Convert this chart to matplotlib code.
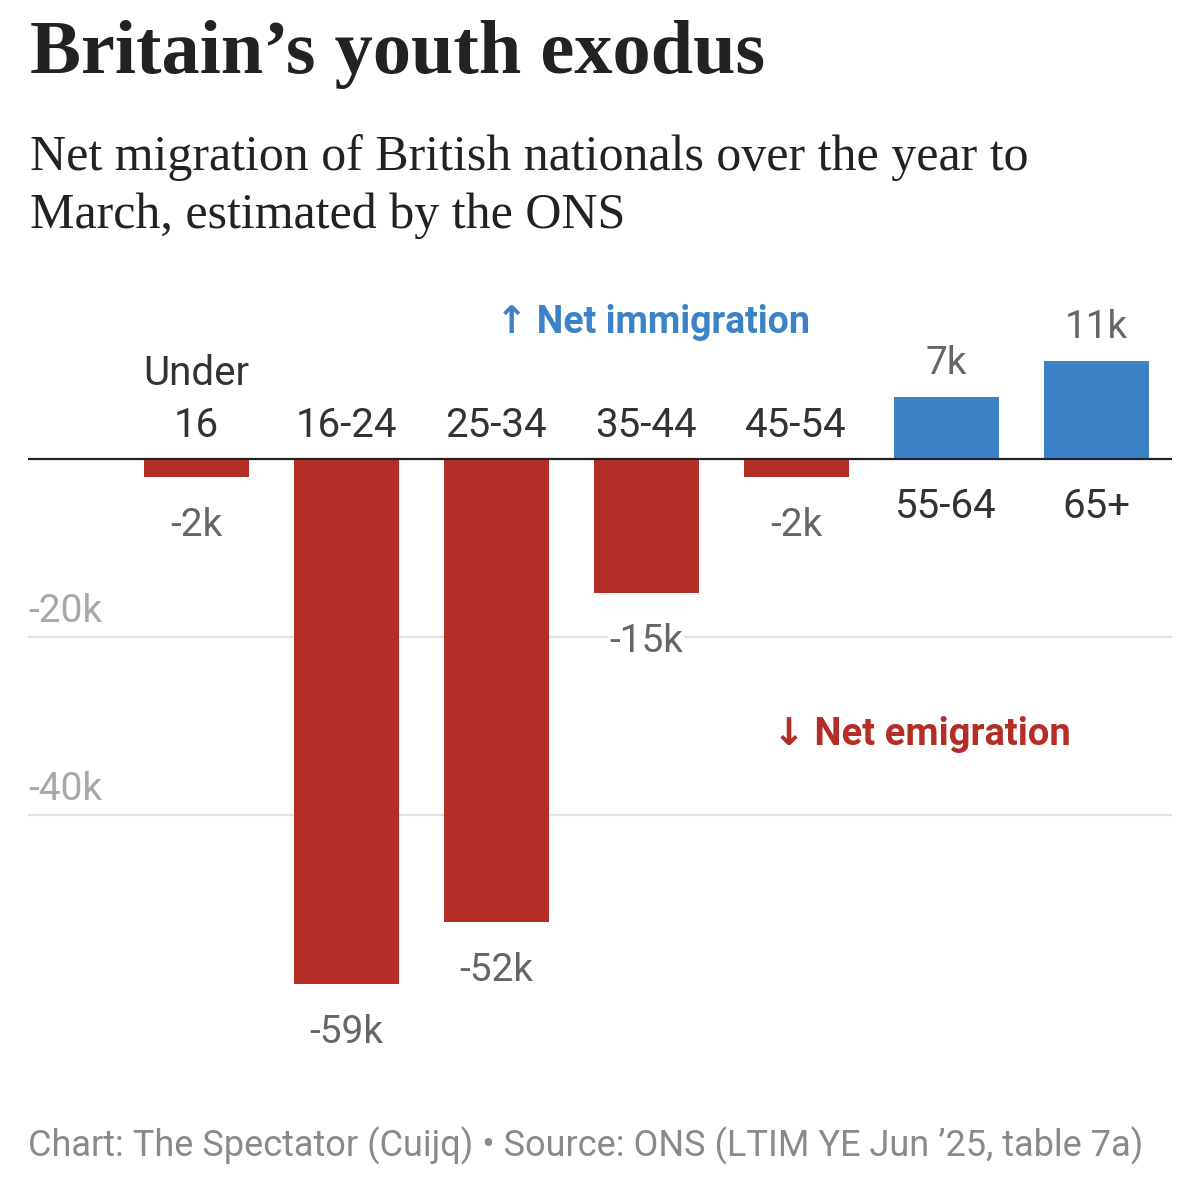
import matplotlib.pyplot as plt

categories = ["Under\n16", "16-24", "25-34", "35-44", "45-54", "55-64", "65+"]
net_migration = [-2, -59, -52, -15, -2, 7, 11]  # thousands
value_labels = ["-2k", "-59k", "-52k", "-15k", "-2k", "7k", "11k"]
grid_values = [-20, -40]
grid_labels = ["-20k", "-40k"]

red = "#b42d27"
blue = "#3b82c6"
W, H = 1200, 1187
PT = 0.72  # points per pixel at dpi 100

plt.rcParams["font.family"] = ["Roboto", "DejaVu Sans"]

fig = plt.figure(figsize=(W / 100, H / 100), dpi=100)

# axes box in pixels
left, right, top, bottom = 28, 1172, 280, 1080
zero_px, px_per_k = 459, 8.9
ax = fig.add_axes([left / W, 1 - bottom / H, (right - left) / W, (bottom - top) / H])
ax.set_ylim(-(bottom - zero_px) / px_per_k, (zero_px - top) / px_per_k)
ax.set_xlim(-(196 - left) / 150, (right - 196) / 150)
ax.axis("off")

x = list(range(len(categories)))
colors = [red if v < 0 else blue for v in net_migration]
ax.bar(x, net_migration, width=0.7, color=colors, zorder=2)
ax.axhline(0, color="#222222", lw=1.6, zorder=3)

for g, lab in zip(grid_values, grid_labels):
    ax.axhline(g, color="#e3e3e3", lw=1.6, zorder=0)
    ax.annotate(lab, (0, g), xycoords=("axes fraction", "data"),
                xytext=(0, 15 * PT), textcoords="offset points",
                ha="left", va="baseline", fontsize=28, color="#a8a8a8")

for xi, v, cat, lab in zip(x, net_migration, categories, value_labels):
    lines = cat.split("\n")
    if v < 0:
        for j, line in enumerate(reversed(lines)):
            ax.annotate(line, (xi, 0), xytext=(0, (22 + 52 * j) * PT),
                        textcoords="offset points", ha="center", va="baseline",
                        fontsize=29, color="#333333")
        ax.annotate(lab, (xi, v), xytext=(0, -30 * PT), textcoords="offset points",
                    ha="center", va="top", fontsize=28, color="#666666", zorder=4,
                    bbox=dict(fc="white", ec="none", pad=1))
    else:
        for j, line in enumerate(lines):
            ax.annotate(line, (xi, 0), xytext=(0, -(59 + 52 * j) * PT),
                        textcoords="offset points", ha="center", va="baseline",
                        fontsize=29, color="#333333")
        ax.annotate(lab, (xi, v), xytext=(0, 23 * PT), textcoords="offset points",
                    ha="center", va="baseline", fontsize=28, color="#666666")

ax.text(3.05, 14.2, "\u2191 Net immigration", ha="center", va="baseline",
        fontsize=27, fontweight="bold", color=blue)
ax.text(4.84, -32.1, "\u2193 Net emigration", ha="center", va="baseline",
        fontsize=27.5, fontweight="bold", color=red)

fig.text(30 / W, 1 - 73 / H, "Britain\u2019s youth exodus", family="Liberation Serif",
         fontweight="bold", fontsize=55, color="#222222", va="baseline")
subtitle = ["Net migration of British nationals over the year to",
            "March, estimated by the ONS"]
for i, line in enumerate(subtitle):
    fig.text(30 / W, 1 - (170 + 58 * i) / H, line, family="Liberation Serif",
             fontsize=36, color="#222222", va="baseline")

fig.text(28 / W, 1 - 1156 / H,
         "Chart: The Spectator (Cuijq) \u2022 Source: ONS (LTIM YE Jun \u201925, table 7a)",
         fontsize=26, color="#8a8a8a", va="baseline")

fig.savefig("out.png", dpi=100)
